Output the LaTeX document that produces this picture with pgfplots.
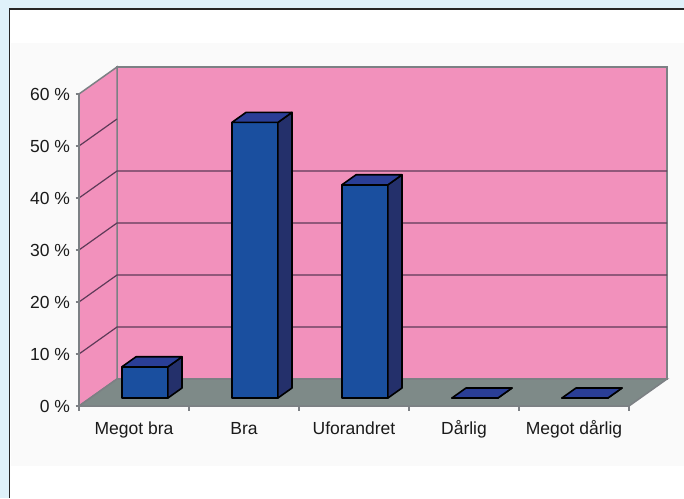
\documentclass[border=0pt]{standalone}
\usepackage{fontspec}
\setmainfont{Liberation Sans}
\usepackage{pgfplots}
\pgfplotsset{compat=1.18}
\definecolor{pagebg}{HTML}{DFF1FA}
\definecolor{panel}{HTML}{FAFAFA}
\definecolor{wall}{HTML}{F291BC}
\definecolor{floorgrey}{HTML}{7E8A88}
\definecolor{frontblue}{HTML}{1A4F9F}
\definecolor{sideblue}{HTML}{24306B}
\definecolor{topblue}{HTML}{2A3E96}
\definecolor{gridline}{HTML}{5E3A58}
\definecolor{edge}{HTML}{7C8084}
\definecolor{labeltext}{HTML}{1A1A1A}

% One column: left and right edge along the category axis, and its height in percent
\newcommand{\column}[3]{%
  \addplot3[fill=frontblue,draw=black,line width=1.6pt,line join=round] coordinates
    {(#1,0.296,0) (#2,0.296,0) (#2,0.296,#3) (#1,0.296,#3)} -- cycle;
  \addplot3[fill=sideblue,draw=black,line width=1.6pt,line join=round] coordinates
    {(#2,0.296,0) (#2,0.667,0) (#2,0.667,#3) (#2,0.296,#3)} -- cycle;
  \addplot3[fill=topblue,draw=black,line width=1.6pt,line join=round] coordinates
    {(#1,0.296,#3) (#2,0.296,#3) (#2,0.667,#3) (#1,0.667,#3)} -- cycle;
}
\newcommand{\wallgrid}[1]{%
  \addplot3[gridline,line width=1.2pt] coordinates {(0,0,#1) (0,1,#1) (5,1,#1)};
}

\begin{document}
\begin{tikzpicture}[x=1pt,y=1pt]
\useasboundingbox (0,0) rectangle (684,498);
\fill[pagebg] (0,0) rectangle (684,498);
\fill[white] (10,0) rectangle (684,489);
\draw[black!85,line width=1.8pt] (9.5,0) -- (9.5,489) -- (684,489);
\fill[panel] (11,32) rectangle (684,455);

\begin{axis}[
  at={(79pt,92pt)}, anchor=origin,
  x={(110pt,0pt)}, y={(38pt,27pt)}, z={(0pt,5.2pt)},
  xmin=0, xmax=5, ymin=0, ymax=1, zmin=0, zmax=60,
  clip=false,
  axis lines=none,
  font=\fontsize{17.5}{20}\selectfont,
  every axis plot/.append style={no markers},
]
  % Walls and floor
  \addplot3[fill=wall,draw=edge,line width=1.5pt] coordinates
    {(0,1,0) (5,1,0) (5,1,60) (0,1,60)} -- cycle;
  \addplot3[fill=wall,draw=edge,line width=1.5pt] coordinates
    {(0,0,0) (0,1,0) (0,1,60) (0,0,60)} -- cycle;
  \addplot3[fill=floorgrey,draw=edge,line width=1.5pt] coordinates
    {(0,0,0) (5,0,0) (5,1,0) (0,1,0)} -- cycle;

  % Grid lines, the back wall showing them up to 40 %
  \wallgrid{10}
  \wallgrid{20}
  \wallgrid{30}
  \wallgrid{40}
  \addplot3[gridline,line width=1.2pt] coordinates {(0,0,50) (0,1,50)};

  % Columns
  \column{0.288}{0.706}{6}
  \column{1.288}{1.706}{53}
  \column{2.288}{2.706}{41}
  \column{3.288}{3.706}{0}
  \column{4.288}{4.706}{0}

  % Vertical scale: tick strokes and labels
  \addplot3[edge,line width=1.5pt,forget plot] coordinates {(0,0,0) (0,0,60)};
  \pgfplotsinvokeforeach{0,10,20,30,40,50,60}{
    \addplot3[edge,line width=1.2pt] coordinates {(-0.03,0,#1) (0,0,#1)};
    \addplot3[draw=none] coordinates {(-0.08,0,#1)}
      node[anchor=east,text=labeltext,inner sep=0pt] {#1 \%};
  }

  % Category scale
  \pgfplotsinvokeforeach{0,1,2,3,4,5}{
    \addplot3[edge,line width=1.2pt] coordinates {(#1,0,0) (#1,0,-0.9)};
  }
  \addplot3[draw=none] coordinates {(0.5,0,-5.4)} node[anchor=base,text=labeltext,inner sep=0pt] {Megot bra};
  \addplot3[draw=none] coordinates {(1.5,0,-5.4)} node[anchor=base,text=labeltext,inner sep=0pt] {Bra};
  \addplot3[draw=none] coordinates {(2.5,0,-5.4)} node[anchor=base,text=labeltext,inner sep=0pt] {Uforandret};
  \addplot3[draw=none] coordinates {(3.5,0,-5.4)} node[anchor=base,text=labeltext,inner sep=0pt] {Dårlig};
  \addplot3[draw=none] coordinates {(4.5,0,-5.4)} node[anchor=base,text=labeltext,inner sep=0pt] {Megot dårlig};
\end{axis}
\end{tikzpicture}
\end{document}
